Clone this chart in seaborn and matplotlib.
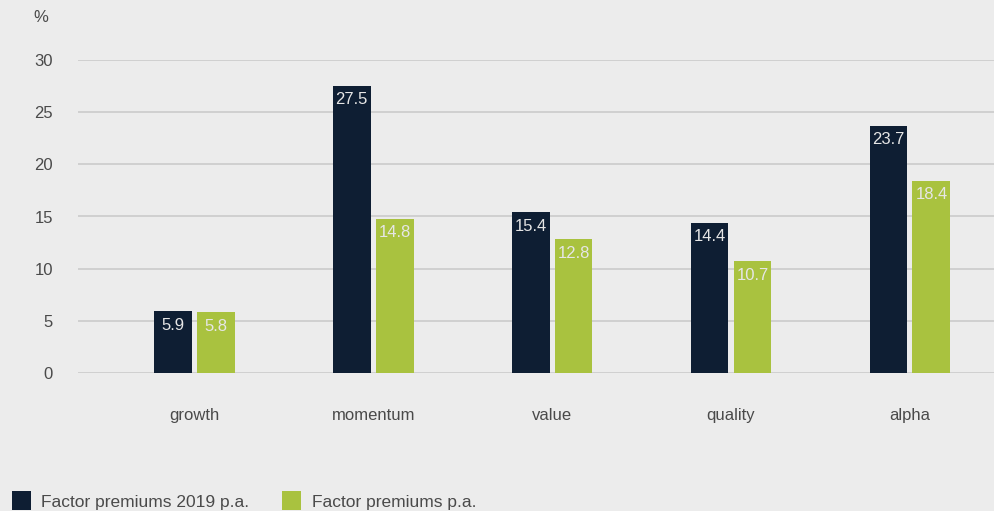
import matplotlib
matplotlib.use("Agg")
import matplotlib.pyplot as plt
import pandas as pd
import seaborn as sns
from matplotlib.patches import Patch

categories = ["growth", "momentum", "value", "quality", "alpha"]
premiums_2019 = [5.9, 27.5, 15.4, 14.4, 23.7]
premiums_pa = [5.8, 14.8, 12.8, 10.7, 18.4]
series_names = ["Factor premiums 2019 p.a.", "Factor premiums p.a."]
y_ticks = [0, 5, 10, 15, 20, 25, 30]

navy = "#0e1e33"
green = "#a9c23f"
bg = "#ececec"
text_col = "#4a4a4a"

df = pd.DataFrame({
    "factor": categories * 2,
    "value": premiums_2019 + premiums_pa,
    "series": [series_names[0]] * len(categories) + [series_names[1]] * len(categories),
})

sns.set_theme(style="white")
plt.rcParams["font.family"] = ["Liberation Sans", "DejaVu Sans"]

fig = plt.figure(figsize=(9.94, 5.11), dpi=100, facecolor=bg)
ax = fig.add_axes([78 / 994, (511 - 373) / 511, 1 - 78 / 994, (373 - 60) / 511])
ax.set_facecolor(bg)

sns.barplot(data=df, x="factor", y="value", hue="series", order=categories,
            hue_order=series_names, palette=[navy, green], width=0.48, gap=0.12,
            saturation=1, linewidth=0, ax=ax, legend=False)

for cont in ax.containers:
    for rect in cont:
        h = rect.get_height()
        ax.annotate(f"{h:.1f}", (rect.get_x() + rect.get_width() / 2, h),
                    xytext=(0, -4.5), textcoords="offset points",
                    ha="center", va="top", color="#e6e6e6", fontsize=12)

ax.set_xlim(-0.65, 4.47)
ax.set_ylim(0, 30)
ax.set_yticks(y_ticks)
ax.yaxis.grid(True, color="#c8c8c8", linewidth=1.1)
ax.set_axisbelow(True)
for s in ax.spines.values():
    s.set_visible(False)
ax.tick_params(axis="both", length=0, labelsize=12, colors=text_col)
ax.tick_params(axis="y", pad=18)
ax.tick_params(axis="x", pad=25)
ax.set_xlabel("")
ax.set_ylabel("")
fig.text(33 / 994, 1 - 18 / 511, "%", fontsize=12, color=text_col, ha="left", va="center")

handles = [Patch(facecolor=navy, linewidth=0), Patch(facecolor=green, linewidth=0)]
fig.legend(handles, series_names, loc="center left", bbox_to_anchor=(-0.004, 0.02),
           ncol=2, frameon=False, fontsize=12.5, labelcolor=text_col,
           handlelength=1.1, handleheight=1.3, handletextpad=0.6, columnspacing=1.9)

fig.savefig("out.png", dpi=100, facecolor=bg)
